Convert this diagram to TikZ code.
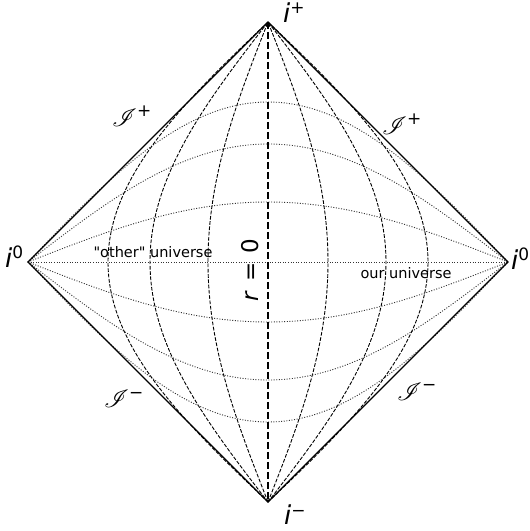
\documentclass[tikz,border=0pt]{standalone}
\usepackage{fontspec}
\usepackage{mathrsfs}
\newfontfamily\djv{DejaVu Sans}
\newcommand\ilabel[1]{{\djv\fontsize{26}{26}\selectfont\itshape i}\raisebox{9pt}{\djv\fontsize{17}{17}\selectfont #1}}
\newcommand\scrilabel[1]{{\fontsize{24}{24}\selectfont$\mathscr{I}$}\raisebox{10pt}{\djv\fontsize{17}{17}\selectfont #1}}
\begin{document}
\begin{tikzpicture}[x=1pt,y=1pt,
  edge/.style={line width=1.4pt, black, line join=miter},
  rline/.style={line width=0.9pt, dash pattern=on 3.7pt off 1.6pt},
  axisline/.style={line width=1.8pt, dash pattern=on 7pt off 3pt},
  tline/.style={line width=0.9pt, dash pattern=on 1pt off 1.6pt, black!80},
  lab/.style={inner sep=0pt, anchor=base west},
  txt/.style={font=\djv\fontsize{14.5}{14.5}\selectfont, inner sep=0pt}]
\useasboundingbox (0,0) rectangle (530,531);
\begin{scope}[shift={(268,269)}]
  \coordinate (ip) at (0,240);
  \coordinate (im) at (0,-240);
  \coordinate (il) at (-240,0);
  \coordinate (ir) at (240,0);
  \draw[tline] (il) -- (ir);
  \foreach \a in {60,118,160}{
    \draw[tline] plot[domain=-240:240,samples=121] (\x,{\a*cos(0.375*\x)});
    \draw[tline] plot[domain=-240:240,samples=121] (\x,{-\a*cos(0.375*\x)});
    \draw[rline] plot[domain=-240:240,samples=121] ({\a*cos(0.375*\x)},\x);
    \draw[rline] plot[domain=-240:240,samples=121] ({-\a*cos(0.375*\x)},\x);
  }
  \draw[axisline] (ip) -- (im);
  \draw[edge] (ip) -- (ir) -- (im) -- (il) -- cycle;
\end{scope}
\node[txt] (other) at (153,279) {"other" universe};
\node[txt] (our) at (406,258) {our universe};
\node[rotate=90, inner sep=0pt, font=\djv\fontsize{23}{23}\selectfont] (r0) at (250,261) {\textit{r}\hspace{0.4em}=\hspace{0.4em}0};
\node[lab] (lip) at (283,508) {\ilabel{+}};
\node[lab] (lim) at (284,6) {\ilabel{−}};
\node[lab] (lil) at (5,263) {\ilabel{0}};
\node[lab] (lir) at (511,261) {\ilabel{0}};
\node[lab] (sp1) at (112,404) {\scrilabel{+}};
\node[lab] (sp2) at (382,396) {\scrilabel{+}};
\node[lab] (sm1) at (104,123) {\scrilabel{−}};
\node[lab] (sm2) at (397,130) {\scrilabel{−}};
\end{tikzpicture}
\end{document}
